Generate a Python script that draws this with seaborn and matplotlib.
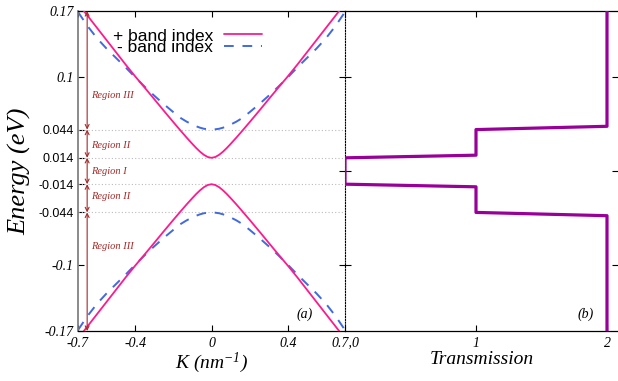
import matplotlib
matplotlib.use("Agg")
import matplotlib.pyplot as plt
import seaborn as sns
import pandas as pd

# ---------------- data ----------------
k_vals = [-0.70, -0.65, -0.60, -0.55, -0.50, -0.45, -0.40, -0.35, -0.30, -0.25,
          -0.20, -0.16, -0.13, -0.10, -0.08, -0.06, -0.04, -0.02, 0.00,
          0.02, 0.04, 0.06, 0.08, 0.10, 0.13, 0.16, 0.20, 0.25, 0.30, 0.35,
          0.40, 0.45, 0.50, 0.55, 0.60, 0.65, 0.70]

plus_upper = [0.178, 0.165, 0.152, 0.139, 0.126, 0.113, 0.1005, 0.0885, 0.0763, 0.064,
              0.0519, 0.0424, 0.0354, 0.0287, 0.0244, 0.0205, 0.0172, 0.0149, 0.0140,
              0.0149, 0.0172, 0.0205, 0.0244, 0.0287, 0.0354, 0.0424, 0.0519, 0.064, 0.0763, 0.0885,
              0.1005, 0.113, 0.126, 0.139, 0.152, 0.165, 0.178]
plus_lower = [-0.178, -0.165, -0.152, -0.139, -0.126, -0.113, -0.1005, -0.0885, -0.0763, -0.064,
              -0.0519, -0.0424, -0.0354, -0.0287, -0.0244, -0.0205, -0.0172, -0.0149, -0.0140,
              -0.0149, -0.0172, -0.0205, -0.0244, -0.0287, -0.0354, -0.0424, -0.0519, -0.064, -0.0763, -0.0885,
              -0.1005, -0.113, -0.126, -0.139, -0.152, -0.165, -0.178]
minus_upper = [0.169, 0.154, 0.141, 0.130, 0.120, 0.110, 0.0995, 0.0895, 0.080, 0.071,
               0.0625, 0.0561, 0.0524, 0.0493, 0.0475, 0.0460, 0.0449, 0.0443, 0.0440,
               0.0443, 0.0449, 0.0460, 0.0475, 0.0493, 0.0524, 0.0561, 0.0625, 0.071, 0.080, 0.0895,
               0.0995, 0.110, 0.120, 0.130, 0.141, 0.154, 0.169]
minus_lower = [-0.169, -0.154, -0.141, -0.130, -0.120, -0.110, -0.0995, -0.0895, -0.080, -0.071,
               -0.0625, -0.0561, -0.0524, -0.0493, -0.0475, -0.0460, -0.0449, -0.0443, -0.0440,
               -0.0443, -0.0449, -0.0460, -0.0475, -0.0493, -0.0524, -0.0561, -0.0625, -0.071, -0.080, -0.0895,
               -0.0995, -0.110, -0.120, -0.130, -0.141, -0.154, -0.169]

# transmission step curve (T, E)
trans_T = [2, 2, 1, 1, 0, 0, 1, 1, 2, 2]
trans_E = [0.17, 0.0475, 0.044, 0.0168, 0.014, -0.014, -0.0168, -0.044, -0.0475, -0.17]

region_levels = [0.17, 0.044, 0.014, -0.014, -0.044, -0.17]
region_labels = ["Region III", "Region II", "Region I", "Region II", "Region III"]
region_label_y = [0.080, 0.027, 0.000, -0.027, -0.080]
region_k = -0.652

yticks_left = [0.17, 0.1, 0.044, 0.014, -0.014, -0.044, -0.1, -0.17]
ytick_labels_left = ["0.17", "0.1", "0.044", "0.014", "-0.014", "-0.044", "-0.1", "-0.17"]
grid_levels = [0.044, 0.014, -0.014, -0.044]
xticks_left = [-0.7, -0.4, 0, 0.4, 0.7]
xtick_labels_left = ["-0.7", "-0.4", "0", "0.4", "0.7,0"]
xticks_right = [1, 2]
xtick_labels_right = ["1", "2"]

# ---------------- style ----------------
sns.set_theme(style="white")
plt.rcParams["font.family"] = ["Liberation Serif", "DejaVu Serif"]
plt.rcParams["mathtext.fontset"] = "custom"
plt.rcParams["mathtext.rm"] = "Liberation Serif:italic"
plt.rcParams["mathtext.it"] = "Liberation Serif:italic"
for key in ("text.color", "axes.labelcolor", "xtick.color", "ytick.color"):
    plt.rcParams[key] = "black"

MAGENTA = "#ff1a8c"
BLUE = "#4169e1"
PURPLE = "#990099"
REGION = "#a52a2a"

fig = plt.figure(figsize=(6.18, 3.81), dpi=100)
W, H = 618, 381
axL = fig.add_axes([78 / W, 1 - 331 / H, (345 - 78) / W, 320 / H])
axR = fig.add_axes([345 / W, 1 - 331 / H, (618 - 345) / W, 320 / H])

df = pd.DataFrame({"k": k_vals, "pu": plus_upper, "pl": plus_lower,
                   "mu": minus_upper, "ml": minus_lower})

for lv in grid_levels:
    axL.axhline(lv, color="#bbbbbb", lw=0.8, ls=(0, (1, 2)), zorder=1)

sns.lineplot(data=df, x="k", y="pu", ax=axL, color=MAGENTA, lw=1.3,
             label="+ band index", sort=False, estimator=None, zorder=3)
sns.lineplot(data=df, x="k", y="mu", ax=axL, color=BLUE, lw=1.4,
             label="- band index", sort=False, estimator=None, zorder=2,
             dashes=False)
axL.lines[-1].set_dashes((5, 4.5))
sns.lineplot(data=df, x="k", y="pl", ax=axL, color=MAGENTA, lw=1.3,
             sort=False, estimator=None, zorder=3, legend=False)
sns.lineplot(data=df, x="k", y="ml", ax=axL, color=BLUE, lw=1.4,
             sort=False, estimator=None, zorder=2, legend=False)
axL.lines[-1].set_dashes((5, 4.5))

# region arrows
for i in range(len(region_labels)):
    axL.annotate("", xy=(region_k, region_levels[i]), xytext=(region_k, region_levels[i + 1]),
                 arrowprops=dict(arrowstyle="<->", color=REGION, lw=0.8,
                                 shrinkA=0, shrinkB=0, mutation_scale=7))
    axL.text(region_k + 0.02, region_label_y[i], region_labels[i], color=REGION,
             fontsize=7.5, style="italic", va="center", ha="left")

axL.set_xlim(-0.7, 0.7)
axL.set_ylim(-0.17, 0.17)
axL.set_xticks(xticks_left)
axL.set_xticklabels(xtick_labels_left)
axL.set_yticks(yticks_left)
axL.set_yticklabels(ytick_labels_left)
for lab in axL.get_xticklabels():
    lab.set_fontstyle("italic")
    lab.set_fontsize(10)
for lab, txt in zip(axL.get_yticklabels(), ytick_labels_left):
    if txt in ("0.044", "0.014", "-0.014", "-0.044"):
        lab.set_fontfamily("Liberation Sans")
        lab.set_fontsize(9)
    else:
        lab.set_fontstyle("italic")
        lab.set_fontsize(10)
axL.tick_params(axis="both", direction="in", length=4, width=0.8, color="black",
                top=True, bottom=True, left=True, right=False, pad=4)
axL.tick_params(axis="y", pad=3)
axL.set_xlabel(r"K (nm$^{-1}$)", fontsize=14, style="italic", labelpad=1)
axL.set_ylabel("Energy (eV)", fontsize=19, style="italic", labelpad=5)
axL.spines["left"].set_color("#777777")
axL.spines["left"].set_linewidth(1.2)
axL.spines["top"].set_color("black")
axL.spines["bottom"].set_color("black")
axL.spines["top"].set_linewidth(0.9)
axL.spines["bottom"].set_linewidth(0.9)
axL.spines["right"].set_linestyle((0, (1, 1.5)))
axL.spines["right"].set_color("black")
axL.spines["right"].set_linewidth(0.8)
axL.text(0.49, -0.152, "(a)", fontsize=10, style="italic", ha="center", va="center")

leg = axL.legend(loc="upper right", bbox_to_anchor=(0.695, 0.951), frameon=False,
                 markerfirst=False, handlelength=2.2, labelspacing=-0.22,
                 handletextpad=0.6, borderpad=0.1, borderaxespad=0,
                 prop={"family": "Liberation Sans", "size": 12.5})
for t in leg.get_texts():
    t.set_color("black")

# right panel: transmission
dft = pd.DataFrame({"T": trans_T, "E": trans_E})
sns.lineplot(data=dft, x="T", y="E", ax=axR, color=PURPLE, lw=2.3, sort=False,
             estimator=None, zorder=3)
axR.set_xlim(0, (618 - 345) / 131)
axR.set_ylim(-0.17, 0.17)
axR.set_xticks(xticks_right)
axR.set_xticklabels(xtick_labels_right)
for lab in axR.get_xticklabels():
    lab.set_fontstyle("italic")
    lab.set_fontsize(10)
axR.set_yticks([-0.1, 0, 0.1])
axR.set_yticklabels([])
axR.tick_params(axis="x", direction="in", length=4, width=0.8, color="black",
                top=True, bottom=True, pad=4)
axR.tick_params(axis="y", direction="inout", length=8, width=0.8, color="black",
                left=True, right=True)
axR.set_xlabel("Transmission", fontsize=14, style="italic", labelpad=1)
axR.set_ylabel("")
axR.spines["left"].set_visible(False)
axR.spines["right"].set_visible(False)
axR.spines["top"].set_color("black")
axR.spines["bottom"].set_color("black")
axR.spines["top"].set_linewidth(0.9)
axR.spines["bottom"].set_linewidth(0.9)
axR.text(1.84, -0.152, "(b)", fontsize=10, style="italic", ha="center", va="center")
axR.set_facecolor("none")

fig.savefig("out.png", dpi=100)
